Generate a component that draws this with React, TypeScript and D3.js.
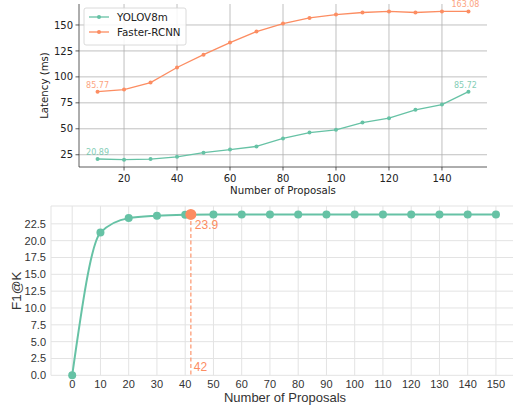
import React from "react";
import * as d3 from "d3";

const proposals = [10, 20, 30, 40, 50, 60, 70, 80, 90, 100, 110, 120, 130, 140, 150];
const yoloLatency = [20.89, 20.3, 20.8, 23.0, 27.0, 30.0, 33.0, 40.7, 46.4, 49.0, 56.0, 60.2, 68.3, 73.3, 85.72];
const rcnnLatency = [85.77, 87.8, 94.5, 109.0, 121.4, 133.0, 143.6, 151.3, 156.8, 160.0, 162.0, 163.0, 162.0, 163.0, 163.08];
const latencyTicksX = [20, 40, 60, 80, 100, 120, 140];
const latencyTicksY = [25, 50, 75, 100, 125, 150];

const kValues = [0, 10, 20, 30, 40, 50, 60, 70, 80, 90, 100, 110, 120, 130, 140, 150];
const f1Values = [0, 21.2, 23.35, 23.7, 23.85, 23.9, 23.9, 23.9, 23.9, 23.9, 23.9, 23.9, 23.9, 23.9, 23.9, 23.9];
const bestK = 42;
const bestF1 = 23.9;
const f1TicksX = [0, 10, 20, 30, 40, 50, 60, 70, 80, 90, 100, 110, 120, 130, 140, 150];
const f1TicksY = [0, 2.5, 5, 7.5, 10, 12.5, 15, 17.5, 20, 22.5];

const green = "#66c2a5";
const orange = "#fc8d62";

const TopChart = () => {
  const left = 79, right = 487, top = 4, bottom = 167;
  const x = d3.scaleLinear().domain([3, 157]).range([left, right]);
  const y = d3.scaleLinear().domain([13.2, 170.2]).range([bottom, top]);
  const line = d3.line<number>().x((d, i) => x(proposals[i])).y((d) => y(d));
  const font = "DejaVu Sans";
  const series = [
    { name: "YOLOV8m", values: yoloLatency, color: green },
    { name: "Faster-RCNN", values: rcnnLatency, color: orange },
  ];
  return (
    <g fontFamily={font}>
      {latencyTicksX.map((t) => (
        <line key={"gx" + t} x1={x(t)} x2={x(t)} y1={top} y2={bottom} stroke="#b0b0b0" strokeWidth={0.8} />
      ))}
      {latencyTicksY.map((t) => (
        <line key={"gy" + t} x1={left} x2={right} y1={y(t)} y2={y(t)} stroke="#b0b0b0" strokeWidth={0.8} />
      ))}
      <line x1={left} x2={left} y1={top} y2={bottom} stroke="#333" strokeWidth={0.8} />
      <line x1={left} x2={right} y1={bottom} y2={bottom} stroke="#333" strokeWidth={0.8} />
      {latencyTicksX.map((t) => (
        <g key={"tx" + t}>
          <line x1={x(t)} x2={x(t)} y1={bottom} y2={bottom + 3.5} stroke="#333" strokeWidth={0.8} />
          <text x={x(t)} y={bottom + 15} textAnchor="middle" fontSize={10} fill="#222">{t}</text>
        </g>
      ))}
      {latencyTicksY.map((t) => (
        <g key={"ty" + t}>
          <line x1={left - 3.5} x2={left} y1={y(t)} y2={y(t)} stroke="#333" strokeWidth={0.8} />
          <text x={left - 6} y={y(t) + 3.6} textAnchor="end" fontSize={10} fill="#222">{t}</text>
        </g>
      ))}
      <text x={(left + right) / 2} y={bottom + 27} textAnchor="middle" fontSize={10.2} fill="#222">Number of Proposals</text>
      <text transform={`translate(${48},${(top + bottom) / 2}) rotate(-90)`} textAnchor="middle" fontSize={10.2} fill="#222">Latency (ms)</text>
      {series.map((s) => (
        <g key={s.name}>
          <path d={line(s.values) || ""} fill="none" stroke={s.color} strokeWidth={1.3} />
          {s.values.map((v, i) => (
            <circle key={i} cx={x(proposals[i])} cy={y(v)} r={2} fill={s.color} />
          ))}
          <text x={x(proposals[0])} y={y(s.values[0]) - 4} textAnchor="middle" fontSize={8} fill={s.color} opacity={0.8}>{s.values[0].toFixed(2)}</text>
          <text x={x(proposals[proposals.length - 1]) - 3} y={y(s.values[s.values.length - 1]) - 4} textAnchor="middle" fontSize={8} fill={s.color} opacity={0.8}>{s.values[s.values.length - 1].toFixed(2)}</text>
        </g>
      ))}
      <rect x={84} y={8} width={102} height={37} rx={2} fill="white" fillOpacity={0.85} stroke="#d0d0d0" strokeWidth={0.8} />
      {series.map((s, i) => (
        <g key={"lg" + s.name} transform={`translate(0,${17 + i * 15})`}>
          <line x1={89} x2={109} y1={0} y2={0} stroke={s.color} strokeWidth={1.3} />
          <circle cx={99} cy={0} r={2} fill={s.color} />
          <text x={117} y={3.7} fontSize={10.3} fill="#222">{s.name}</text>
        </g>
      ))}
    </g>
  );
};

const BottomChart = () => {
  const left = 51, top = 206, bottom = 375.3;
  const x = d3.scaleLinear().domain([-7.5, 157.5]).range([left, left + 165 * 2.825]);
  const right = x(157.5);
  const y = d3.scaleLinear().domain([0, 25.15]).range([bottom, top]);
  const line = d3.line<number>().x((d, i) => x(kValues[i])).y((d) => y(d)).curve(d3.curveMonotoneX);
  const font = "Liberation Sans, Arial, sans-serif";
  return (
    <g fontFamily={font}>
      <rect x={left} y={top} width={right - left} height={bottom - top} fill="white" />
      {f1TicksX.map((t) => (
        <line key={"gx" + t} x1={x(t)} x2={x(t)} y1={top} y2={bottom} stroke="#e3e3e3" strokeWidth={1} />
      ))}
      {f1TicksY.map((t) => (
        <line key={"gy" + t} x1={left} x2={right} y1={y(t)} y2={y(t)} stroke="#e3e3e3" strokeWidth={1} />
      ))}
      <line x1={left} x2={right} y1={top} y2={top} stroke="#e3e3e3" strokeWidth={1} />
      <line x1={left} x2={left} y1={top} y2={bottom} stroke="#e3e3e3" strokeWidth={1} />
      {f1TicksX.map((t) => (
        <text key={"tx" + t} x={x(t)} y={bottom + 12.5} textAnchor="middle" fontSize={11} fill="#333">{t}</text>
      ))}
      {f1TicksY.map((t) => (
        <text key={"ty" + t} x={left - 5} y={y(t) + 4} textAnchor="end" fontSize={11} fill="#333">{t.toFixed(1)}</text>
      ))}
      <text x={285} y={401.5} textAnchor="middle" fontSize={13} fill="#333">Number of Proposals</text>
      <text transform={`translate(${21},${(top + bottom) / 2}) rotate(-90)`} textAnchor="middle" fontSize={13.5} fill="#333">F1@K</text>
      <path d={line(f1Values) || ""} fill="none" stroke={green} strokeWidth={2} />
      {f1Values.map((v, i) => (
        <circle key={i} cx={x(kValues[i])} cy={y(v)} r={4} fill={green} />
      ))}
      <line x1={x(bestK)} x2={x(bestK)} y1={y(bestF1)} y2={bottom} stroke={orange} strokeOpacity={0.75} strokeWidth={1.5} strokeDasharray="4,2.5" />
      <circle cx={x(bestK)} cy={y(bestF1)} r={5.5} fill={orange} />
      <text x={x(bestK) + 4} y={y(bestF1) + 15} fontSize={12} fill={orange}>{bestF1}</text>
      <text x={x(bestK) + 3} y={bottom - 4} fontSize={12} fill={orange}>{bestK}</text>
    </g>
  );
};

export default function App() {
  return (
    <svg width={513} height={406} style={{ position: "absolute", left: 0, top: 0, background: "white" }}>
      <rect width={513} height={406} fill="white" />
      <TopChart />
      <BottomChart />
    </svg>
  );
}
